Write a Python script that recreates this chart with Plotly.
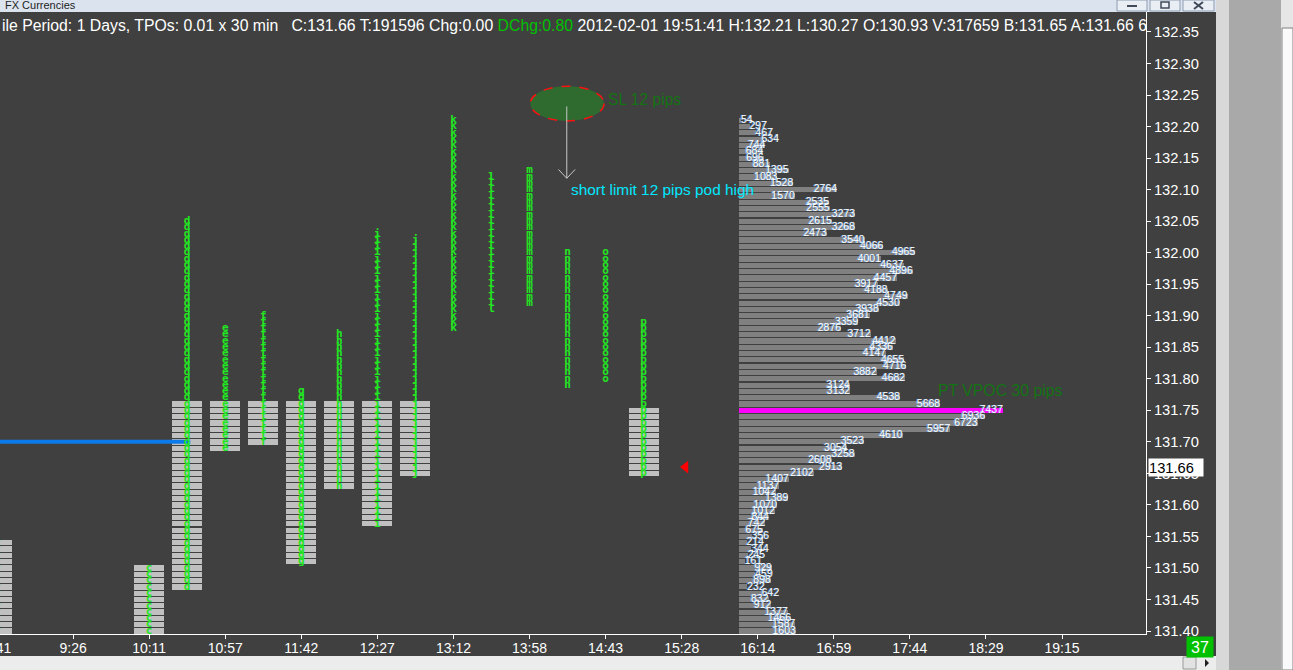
import numpy as np
import plotly.graph_objects as go

# ---------------- data ----------------
time_labels = ["8:41", "9:26", "10:11", "10:57", "11:42", "12:27", "13:12", "13:58",
               "14:43", "15:28", "16:14", "16:59", "17:44", "18:29", "19:15"]
time_ticks = list(range(len(time_labels)))

price_ticks = [131.40, 131.45, 131.50, 131.55, 131.60, 131.65, 131.70, 131.75, 131.80, 131.85,
               131.90, 131.95, 132.00, 132.05, 132.10, 132.15, 132.20, 132.25, 132.30, 132.35]
price_labels = ["%.2f" % p for p in price_ticks]

# TPO columns (slot = position in tick units, 0.5 = 30 min)
tpo_letters = ["y", "c", "d", "e", "f", "g", "h", "i", "j", "k", "l", "m", "n", "o", "p"]
tpo_slot = [0.0, 2.0, 2.5, 3.0, 3.5, 4.0, 4.5, 5.0, 5.5, 6.0, 6.5, 7.0, 7.5, 8.0, 8.5]
tpo_high = [131.54, 131.50, 132.05, 131.88, 131.90, 131.78, 131.87, 132.03, 132.02,
            132.21, 132.12, 132.13, 132.00, 132.00, 131.89]
tpo_low = [131.38, 131.38, 131.47, 131.69, 131.70, 131.51, 131.63, 131.57, 131.65,
           131.88, 131.91, 131.92, 131.79, 131.80, 131.65]

# grey TPO blocks
box_slot = [0.0, 2.0, 2.5, 3.0, 3.5, 4.0, 4.5, 5.0, 5.5, 8.5]
box_high = [131.54, 131.50, 131.76, 131.76, 131.76, 131.76, 131.76, 131.76, 131.76, 131.75]
box_low = [131.38, 131.38, 131.47, 131.69, 131.70, 131.51, 131.63, 131.57, 131.65, 131.65]

# volume profile, from 132.21 downwards in 0.01 steps
profile_top = 132.21
volumes = [54, 297, 467, 634, 744, 684, 696, 881, 1395, 1083, 1528, 2764, 1570, 2535, 2555,
           3273, 2615, 3268, 2473, 3540, 4066, 4965,
           4001, 4637, 4896, 4457, 3917, 4188, 4749, 4530, 3938, 3681, 3359, 2876, 3712, 4412,
           4336, 4147, 4655, 4716, 3882, 4682, 3124, 3132, 4538, 5668, 7437, 6936, 6723, 5957,
           4610, 3523, 3054, 3258, 2608, 2913, 2102, 1407, 1137, 1042, 1389, 1070, 1012, 844,
           742, 675, 356, 214, 344, 245, 161, 929, 459, 898, 232, 642, 832, 912, 1377, 1466,
           1587, 1603]
profile_prices = list(np.round(profile_top - 0.01 * np.arange(len(volumes)), 2))

last_price = 131.66
prior_level = 131.70          # blue line
prior_level_end = 2.54
vpoc_label = "PT VPOC 30 pips"
sl_label = "SL 12 pips"
limit_label = "short limit 12 pips pod high"
bars_left = "37"

header_left = "ile Period: 1 Days, TPOs: 0.01 x 30 min   C:131.66 T:191596 Chg:0.00 "
header_green = "DChg:0.80"
header_right = " 2012-02-01 19:51:41 H:132.21 L:130.27 O:130.93 V:317659 B:131.65 A:131.66 6"

# ---------------- geometry helpers ----------------
W, H = 1293, 670
PL, PR, PT, PB = 0, 1146, 12, 634        # plot area in pixels
x_range = [0.0394, 15.104]
y_range = [131.3953, 132.3817]
vol_px = 264 / 7437.0
prof_start_px = 739
x2_range = [-(prof_start_px - PL) / vol_px, (PR - prof_start_px) / vol_px]

def px(xp):
    return (xp - PL) / (PR - PL)

def py(yp):
    return (PB - yp) / (PB - PT)

FONT = "Liberation Sans, Arial, sans-serif"
BG = "#404040"
GREEN = "#22e622"

fig = go.Figure()

# grey TPO blocks, one bar per price row
bx, bbase = [], []
for s, hi, lo in zip(box_slot, box_high, box_low):
    rows = np.round(np.arange(lo, hi + 0.0001, 0.01), 2)
    for r in rows:
        bx.append(s)
        bbase.append(r - 0.0042)
fig.add_trace(go.Bar(x=bx, y=[0.0084] * len(bx), base=bbase, width=0.394,
                     marker=dict(color="#c0c0c0", line=dict(width=0)),
                     hoverinfo="skip"))

# blue line
fig.add_trace(go.Scatter(x=[-1, prior_level_end], y=[prior_level, prior_level], mode="lines",
                         line=dict(color="#0c7ae8", width=4), hoverinfo="skip"))

# TPO letters
for L, s, hi, lo in zip(tpo_letters, tpo_slot, tpo_high, tpo_low):
    rows = np.round(np.arange(lo, hi + 0.0001, 0.01), 2)
    fig.add_trace(go.Scatter(x=[s] * len(rows), y=rows, mode="text", text=[L] * len(rows),
                             textposition="middle center",
                             textfont=dict(color=GREEN, size=11, family="DejaVu Sans Mono",
                                           weight="bold"),
                             hoverinfo="skip"))

# volume profile
vmax = max(volumes)
colors = ["#ff00ff" if v == vmax else "#808080" for v in volumes]
fig.add_trace(go.Bar(x=volumes, y=profile_prices, base=0, orientation="h", width=0.0082,
                     marker=dict(color=colors, line=dict(width=0)), xaxis="x2", yaxis="y",
                     hoverinfo="skip"))
pos = []
for v in volumes:
    tw = len(str(v)) * 6.0 + 5
    pos.append("middle left" if v * vol_px > tw else "middle right")
fig.add_trace(go.Scatter(x=volumes, y=profile_prices, mode="text", text=[str(v) for v in volumes],
                         textposition=pos, xaxis="x2", yaxis="y",
                         textfont=dict(color="#ffffff", size=10.5, family=FONT,
                                       shadow="-1px 0px 0px rgba(110,180,255,0.8)"),
                         hoverinfo="skip"))

# last price marker
fig.add_trace(go.Scatter(x=[9.05], y=[last_price], mode="markers",
                         marker=dict(symbol="triangle-left", size=11, color="#ff0000"),
                         hoverinfo="skip"))

shapes = []
# SL ellipse
shapes.append(dict(type="circle", xref="x", yref="y", x0=7.01, x1=7.98, y0=132.209, y1=132.264,
                   fillcolor="#2f6b2f", line=dict(color="#ff1010", width=1.5, dash="dash"),
                   layer="above"))
# arrow
ac = "#c8c8c8"
shapes.append(dict(type="line", xref="x", yref="y", x0=7.49, x1=7.49, y0=132.232, y1=132.118,
                   line=dict(color=ac, width=1)))
shapes.append(dict(type="line", xref="x", yref="y", x0=7.38, x1=7.49, y0=132.132, y1=132.118,
                   line=dict(color=ac, width=1)))
shapes.append(dict(type="line", xref="x", yref="y", x0=7.60, x1=7.49, y0=132.132, y1=132.118,
                   line=dict(color=ac, width=1)))

# ----- window chrome -----
def prect(x0, x1, y0, y1, fill, line=None):
    return dict(type="rect", xref="paper", yref="paper", x0=px(x0), x1=px(x1), y0=py(y1), y1=py(y0),
                fillcolor=fill, line=line or dict(width=0), layer="above")

# title bar
shapes.append(prect(0, 1216, 0, 12, "#dbe4ee"))
# window buttons
for a, b in [(1117, 1147), (1150, 1180), (1183, 1214)]:
    shapes.append(prect(a, b, 0, 11, "#e9eef5", dict(color="#8d9bb0", width=1)))
shapes.append(prect(1127, 1137, 5, 7, "#404a58"))                                 # minimise
shapes.append(prect(1161, 1169, 2, 8, "rgba(0,0,0,0)", dict(color="#404a58", width=1.5)))  # restore
shapes.append(dict(type="line", xref="paper", yref="paper", x0=px(1194), x1=px(1203), y0=py(2), y1=py(9),
                   line=dict(color="#404a58", width=2), layer="above"))
shapes.append(dict(type="line", xref="paper", yref="paper", x0=px(1194), x1=px(1203), y0=py(9), y1=py(2),
                   line=dict(color="#404a58", width=2), layer="above"))
# right chrome
shapes.append(prect(1216, 1293, 0, 670, "#a9a9a9"))
shapes.append(prect(1216, 1229, 0, 670, "#d8d8d8"))
shapes.append(prect(1281, 1293, 0, 670, "#e6e6e6"))
shapes.append(prect(1282, 1293, 28, 670, "#fafafa", dict(color="#808080", width=1)))
# bottom scrollbar
shapes.append(prect(0, 1216, 656, 670, "#ececec"))
shapes.append(prect(1183, 1196, 657, 669, "#e2e2e2", dict(color="#9a9a9a", width=1)))
shapes.append(dict(type="path", xref="paper", yref="paper",
                   path="M %f %f L %f %f L %f %f Z" % (px(1205), py(659), px(1209), py(663), px(1205), py(667)),
                   fillcolor="#202020", line=dict(width=0), layer="above"))

# pixel position of the first (partly hidden) time tick
first_tick_px = PL + (time_ticks[0] - x_range[0]) / (x_range[1] - x_range[0]) * (PR - PL)

annotations = [
    dict(xref="paper", yref="paper", x=px(3), y=py(5), text="FX Currencies", showarrow=False,
         xanchor="left", yanchor="middle", font=dict(color="#1e1e1e", size=11, family=FONT)),
    dict(xref="paper", yref="paper", x=px(0), y=py(25),
         text=header_left + "<span style='color:#00c000'>" + header_green + "</span>" + header_right,
         showarrow=False, xanchor="left", yanchor="middle",
         font=dict(color="#ffffff", size=15.8, family=FONT)),
    # first time label, partly outside the visible range
    dict(xref="paper", yref="paper", x=px(first_tick_px), y=py(648), text=time_labels[0],
         showarrow=False, xanchor="center", yanchor="middle",
         font=dict(color="#ffffff", size=14, family=FONT)),
    dict(xref="x", yref="y", x=8.01, y=132.243, text=sl_label, showarrow=False, xanchor="left",
         yanchor="middle", font=dict(color="#137313", size=15.6, family=FONT)),
    dict(xref="x", yref="y", x=7.52, y=132.101, text=limit_label, showarrow=False, xanchor="left",
         yanchor="middle", font=dict(color="#00e8ff", size=15.4, family=FONT)),
    dict(xref="x2", yref="y", x=5540, y=131.782, text=vpoc_label, showarrow=False, xanchor="left",
         yanchor="middle", font=dict(color="#137313", size=15.8, family=FONT)),
    dict(xref="paper", yref="y", x=px(1148), y=last_price, text="%.2f" % last_price, showarrow=False,
         xanchor="left", yanchor="middle", bgcolor="#ffffff", width=54, height=17, align="left",
         borderpad=0, font=dict(color="#000000", size=14.7, family=FONT)),
    dict(xref="paper", yref="paper", x=px(1200), y=py(647), text=bars_left, showarrow=False,
         xanchor="center", yanchor="middle", bgcolor="#00c000", width=24, height=18,
         font=dict(color="#ffffff", size=16, family=FONT)),
]

fig.update_layout(
    width=W, height=H,
    margin=dict(l=PL, r=W - PR, t=PT, b=H - PB, pad=0),
    paper_bgcolor=BG, plot_bgcolor=BG,
    showlegend=False, barmode="overlay", bargap=0,
    shapes=shapes, annotations=annotations,
    xaxis=dict(range=x_range, tickvals=time_ticks, ticktext=time_labels, showgrid=False,
               zeroline=False, showline=True, linecolor="#ffffff", linewidth=1,
               ticks="outside", ticklen=4, tickcolor="#ffffff", ticklabelstandoff=-3,
               tickfont=dict(color="#ffffff", size=14, family=FONT), fixedrange=True),
    xaxis2=dict(range=x2_range, overlaying="x", visible=False, fixedrange=True),
    yaxis=dict(range=y_range, side="right", tickvals=price_ticks, ticktext=price_labels,
               showgrid=False, zeroline=False, showline=True, linecolor="#ffffff", linewidth=1,
               ticks="outside", ticklen=4, tickcolor="#ffffff",
               tickfont=dict(color="#ffffff", size=14.7, family=FONT), fixedrange=True),
)

fig.write_html("out.html", config={"displayModeBar": False},
               post_script="document.body.style.margin='0px';")
